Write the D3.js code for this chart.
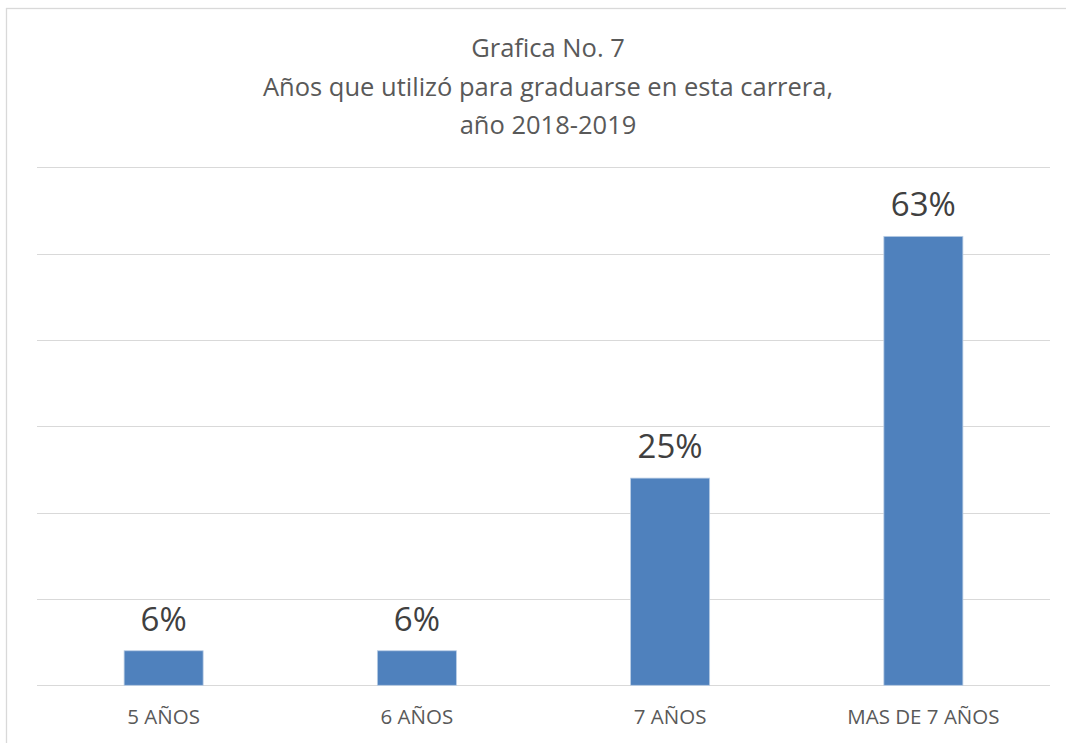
<!DOCTYPE html>
<html>
<head>
<meta charset="utf-8">
<script src="https://cdn.jsdelivr.net/npm/d3@7"></script>
<style>
  html, body { margin: 0; padding: 0; background: #fff; }
  svg { display: block; }
</style>
</head>
<body>
<svg id="chart" width="1066" height="743"></svg>
<script>
// ---- data ----
const categories = ["5 AÑOS", "6 AÑOS", "7 AÑOS", "MAS DE 7 AÑOS"];
const values = [2, 2, 12, 26];            // bar heights (axis units)
const valueLabels = ["6%", "6%", "25%", "63%"];
const gridTicks = [0, 5, 10, 15, 20, 25, 30];
const titleLines = ["Grafica No. 7", "Años que utilizó para graduarse en esta carrera,", "año 2018-2019"];

// ---- layout ----
const W = 1066, H = 743;
const plot = { left: 37, right: 1050, top: 167.3, bottom: 685.3 };
const font = "'Open Sans', 'Liberation Sans', sans-serif";

const svg = d3.select("#chart");

// chart border (top and left visible)
svg.append("rect")
  .attr("x", 6.5).attr("y", 8.5)
  .attr("width", 1080).attr("height", 760)
  .attr("fill", "#fff")
  .attr("stroke", "#d9d9d9").attr("stroke-width", 1.3);

const x = d3.scaleBand()
  .domain(categories)
  .range([plot.left, plot.right])
  .paddingInner(0.688)
  .paddingOuter(0.344);

const y = d3.scaleLinear()
  .domain([0, 30])
  .range([plot.bottom, plot.top]);

// gridlines
svg.append("g")
  .selectAll("line")
  .data(gridTicks)
  .join("line")
  .attr("x1", plot.left).attr("x2", plot.right)
  .attr("y1", d => Math.round(y(d)) + 0.5)
  .attr("y2", d => Math.round(y(d)) + 0.5)
  .attr("stroke", "#d9d9d9").attr("stroke-width", 1.2);

// bars
svg.append("g")
  .selectAll("rect")
  .data(values)
  .join("rect")
  .attr("x", (d, i) => x(categories[i]))
  .attr("y", d => y(d))
  .attr("width", x.bandwidth())
  .attr("height", d => y(0) - y(d))
  .attr("fill", "#4f81bd")
  .attr("stroke", "#b9cde5").attr("stroke-width", 0.8);

// value labels
svg.append("g")
  .selectAll("text")
  .data(values)
  .join("text")
  .attr("x", (d, i) => x(categories[i]) + x.bandwidth() / 2)
  .attr("y", d => y(d) - 20)
  .attr("text-anchor", "middle")
  .attr("font-family", font)
  .attr("font-size", 33)
  .attr("fill", "#404040")
  .text((d, i) => valueLabels[i]);

// x axis labels
const xAxis = d3.axisBottom(x).tickSize(0).tickPadding(0);
const gx = svg.append("g")
  .attr("transform", `translate(0,${plot.bottom})`)
  .call(xAxis);
gx.select(".domain").remove();
gx.selectAll("text")
  .attr("dy", 0)
  .attr("y", 38.5)
  .attr("font-family", font)
  .attr("font-size", 20.5)
  .attr("fill", "#595959");

// title
svg.append("text")
  .attr("x", 548)
  .attr("y", 57)
  .attr("text-anchor", "middle")
  .attr("font-family", font)
  .attr("font-size", 25.5)
  .attr("fill", "#595959")
  .selectAll("tspan")
  .data(titleLines)
  .join("tspan")
  .attr("x", 548)
  .attr("dy", (d, i) => i === 0 ? 0 : 38.5)
  .text(d => d);
</script>
</body>
</html>
